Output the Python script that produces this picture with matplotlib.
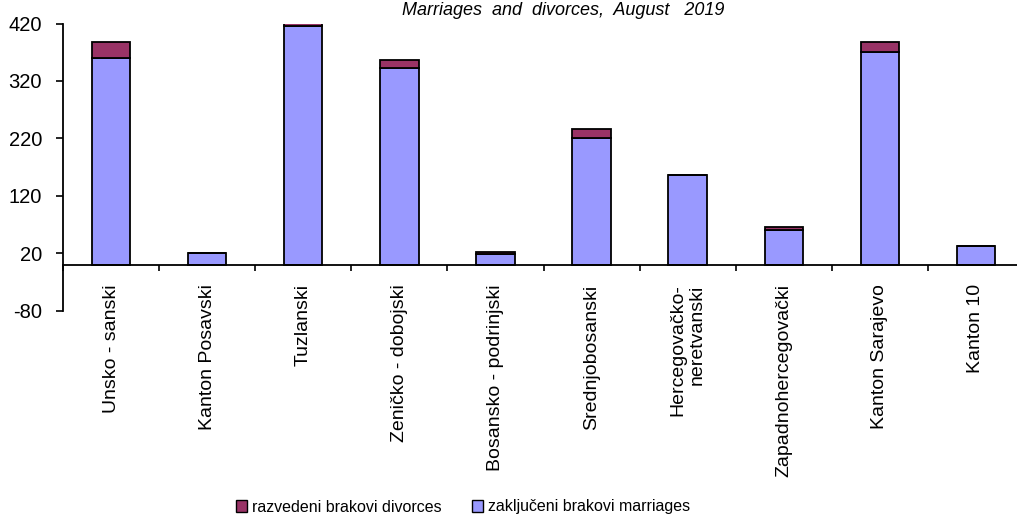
import matplotlib
matplotlib.use("Agg")
import matplotlib.pyplot as plt
from matplotlib.ticker import FixedLocator
from matplotlib.patches import Patch

# values
categories = ['Unsko - sanski', 'Kanton Posavski', 'Tuzlanski', 'Zeničko - dobojski',
              'Bosansko - podrinjski', 'Srednjobosanski', 'Hercegovačko-\nneretvanski',
              'Zapadnohercegovački', 'Kanton Sarajevo', 'Kanton 10']
marriages = [360, 20, 416, 342, 19, 221, 156, 61, 371, 33]
divorces = [28, 0, 20, 15, 4, 15, 0, 4, 17, 0]
y_ticks = [-80, 20, 120, 220, 320, 420]

title = 'Marriages  and  divorces,  August   2019'
label_divorces = 'razvedeni brakovi divorces'
label_marriages = 'zaključeni brakovi marriages'

color_marriages = '#9999FF'
color_divorces = '#993366'

plt.rcParams['font.family'] = ['Liberation Sans', 'DejaVu Sans']

fig = plt.figure(figsize=(10.17, 5.18), dpi=100)
ax = fig.add_axes([63 / 1017, 207.2 / 518, 961 / 1017, 287.3 / 518])

x = list(range(len(categories)))
ax.bar(x, marriages, width=0.4, color=color_marriages, edgecolor='black', linewidth=1.3)
ax.bar(x, divorces, width=0.4, bottom=marriages, color=color_divorces,
       edgecolor='black', linewidth=1.3)

ax.set_xlim(-0.5, len(categories) - 0.5)
ax.set_ylim(-80, 420)

for side in ['top', 'right']:
    ax.spines[side].set_visible(False)
ax.spines['bottom'].set_position(('data', 0))
ax.spines['bottom'].set_linewidth(1.3)
ax.spines['left'].set_linewidth(1.3)

ax.set_yticks(y_ticks)
ax.set_yticklabels([str(v) for v in y_ticks])
ax.tick_params(axis='y', direction='out', length=5, width=1.2, pad=10, labelsize=14.5)

ax.set_xticks(x)
ax.set_xticklabels(categories, rotation=90, fontsize=14, multialignment='right')
ax.xaxis.set_minor_locator(FixedLocator([i + 0.5 for i in range(-1, len(categories))]))
ax.tick_params(axis='x', which='major', length=0, pad=14)
ax.tick_params(axis='x', which='minor', direction='out', length=4.5, width=1.2)

fig.text(563.5 / 1017, 503 / 518, title, ha='center', va='baseline',
         fontsize=13, style='italic')

handles = [Patch(facecolor=color_divorces, edgecolor='black', linewidth=1.0),
           Patch(facecolor=color_marriages, edgecolor='black', linewidth=1.0)]
fig.legend(handles, [label_divorces, label_marriages], loc='center',
           bbox_to_anchor=(463 / 1017, 11 / 518), ncol=2, frameon=False,
           prop={'size': 11.5}, handlelength=0.7, handleheight=0.7,
           handletextpad=0.3, columnspacing=1.9, borderpad=0, borderaxespad=0)

fig.savefig('out.png', dpi=100)
